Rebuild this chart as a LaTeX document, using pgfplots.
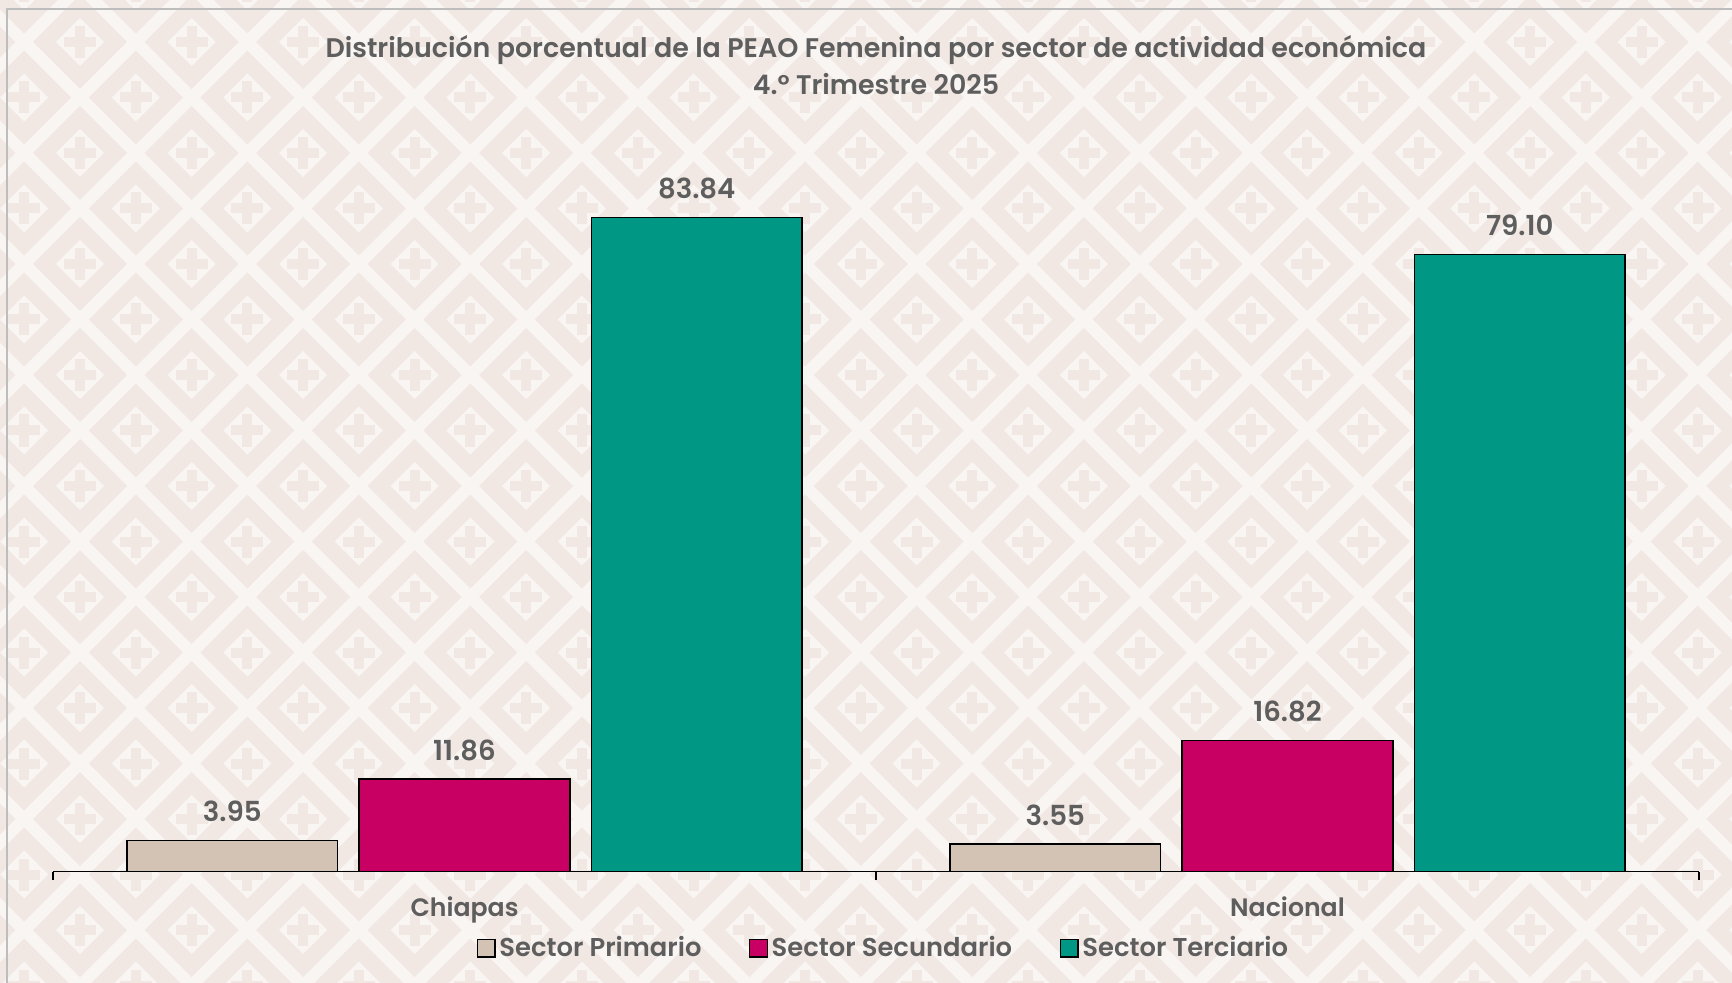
\documentclass[border=0pt]{standalone}
\usepackage{fontspec}
\setmainfont{Poppins}[BoldFont={Poppins SemiBold}]
\usepackage{pgfplots}
\pgfplotsset{compat=1.18}
\definecolor{bgL}{HTML}{F9F5F2}
\definecolor{bgD}{HTML}{F2E8E3}
\definecolor{frm}{HTML}{BDBDBD}
\definecolor{txt}{HTML}{5E5E5E}
\definecolor{cPri}{HTML}{D3C3B5}
\definecolor{cSec}{HTML}{C90064}
\definecolor{cTer}{HTML}{009784}
\begin{document}
\begin{tikzpicture}
\begin{scope}[x=0.5pt,y=-0.5pt]
\useasboundingbox (0,0) rectangle (1732,983);
\clip (0,0) rectangle (1732,983);
\fill[bgL] (0,0) rectangle (1732,983);
\foreach \i in {-1,...,16}{
 \foreach \j in {-1,...,9}{
  \foreach \o in {0,1}{
   \pgfmathsetmacro\cx{80+111.55*\i+55.78*\o}
   \pgfmathsetmacro\cy{42+111*\j+55.5*\o}
   \begin{scope}[shift={(\cx,\cy)}]
    \fill[bgD] (-47,0) -- (0,-47) -- (47,0) -- (0,47) -- cycle;
    \fill[bgL] (-24,0) -- (0,-24) -- (24,0) -- (0,24) -- cycle;
    \fill[bgD] (-16,-5) rectangle (16,5);
    \fill[bgD] (-5,-16) rectangle (5,16);
   \end{scope}
  }
 }
}
\draw[frm, line width=1pt] (7,990) -- (7,9) -- (1740,9);
\end{scope}
\node[anchor=base, text=txt, font=\fontsize{13.45}{15}\selectfont\bfseries] at (438pt,-28.6pt) {Distribución porcentual de la PEAO Femenina por sector de actividad económica};
\node[anchor=base, text=txt, font=\fontsize{13.45}{15}\selectfont\bfseries] at (438pt,-47.2pt) {4.º Trimestre 2025};
\begin{axis}[
  at={(26.5pt,-435.75pt)}, anchor=south west,
  scale only axis, width=823pt, height=351pt,
  xmin=-0.5, xmax=1.5, ymin=0, ymax=90,
  clip=false,
  axis x line=bottom, axis y line=none,
  x axis line style={-, black, line width=0.6pt},
  xtick={0,1}, xticklabels={Chiapas,Nacional},
  major tick length=0pt,
  extra x ticks={-0.5,0.5,1.5}, extra x tick labels={},
  extra x tick style={major tick length=4.3pt, tick align=outside, tick style={black, line width=0.6pt}},
  xticklabel style={anchor=base, yshift=-22.25pt, text=txt, font=\fontsize{12.6}{14}\selectfont\bfseries},
  ybar, bar width=0.256, bar shift=0pt,
  nodes near coords={\pgfmathprintnumber[fixed,fixed zerofill,precision=2,assume math mode=true]{\pgfplotspointmeta}},
  every node near coord/.append style={anchor=center, yshift=14.5pt, text=txt, font=\fontsize{13.8}{15}\selectfont\bfseries},
  legend columns=3,
  legend style={at={(0.505,-0.109)}, anchor=center, draw=none, fill=none,
    font=\fontsize{12.9}{14}\selectfont\bfseries, text=txt,
    /tikz/every even column/.append style={column sep=22pt},
    nodes={inner xsep=1.8pt}, cells={anchor=west}},
]
\addplot[fill=cPri, draw=black, line width=0.7pt,
  legend image code/.code={\draw[fill=cPri,draw=black,line width=0.7pt] (0pt,-4.4pt) rectangle (8.8pt,4.4pt);}]
  coordinates {(-0.2822,3.95) (0.7178,3.55)};
\addlegendentry{Sector Primario}
\addplot[fill=cSec, draw=black, line width=0.7pt,
  legend image code/.code={\draw[fill=cSec,draw=black,line width=0.7pt] (0pt,-4.4pt) rectangle (8.8pt,4.4pt);}]
  coordinates {(0,11.86) (1,16.82)};
\addlegendentry{Sector Secundario}
\addplot[fill=cTer, draw=black, line width=0.7pt,
  legend image code/.code={\draw[fill=cTer,draw=black,line width=0.7pt] (0pt,-4.4pt) rectangle (8.8pt,4.4pt);}]
  coordinates {(0.2822,83.84) (1.2822,79.10)};
\addlegendentry{Sector Terciario}
\end{axis}
\end{tikzpicture}
\end{document}
